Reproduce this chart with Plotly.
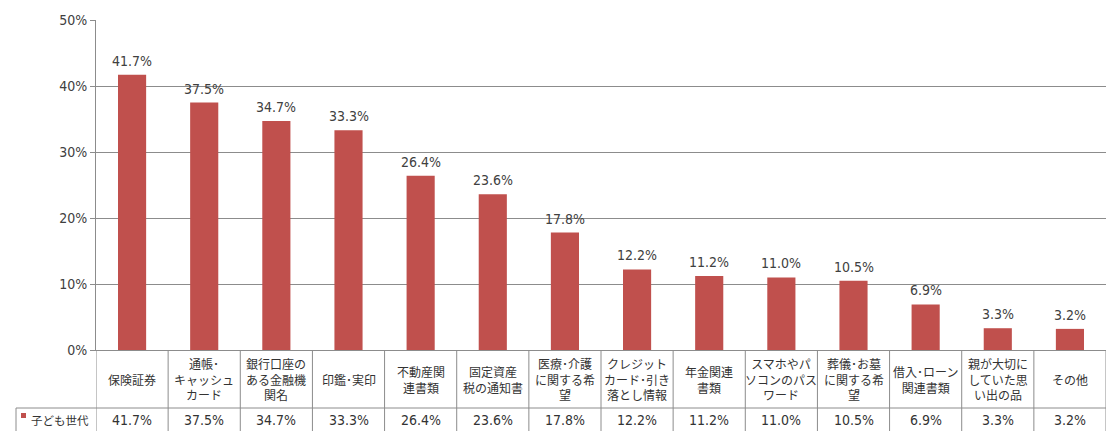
import plotly.graph_objects as go

# ---- data ----
category_lines = [
    ["保険証券"],
    ["通帳･", "キャッシュ", "カード"],
    ["銀行口座の", "ある金融機", "関名"],
    ["印鑑･実印"],
    ["不動産関", "連書類"],
    ["固定資産", "税の通知書"],
    ["医療･介護", "に関する希", "望"],
    ["クレジット", "カード･引き", "落とし情報"],
    ["年金関連", "書類"],
    ["スマホやパ", "ソコンのパス", "ワード"],
    ["葬儀･お墓", "に関する希", "望"],
    ["借入･ローン", "関連書類"],
    ["親が大切に", "していた思", "い出の品"],
    ["その他"],
]
categories = ["".join(c) for c in category_lines]
values = [41.7, 37.5, 34.7, 33.3, 26.4, 23.6, 17.8, 12.2, 11.2, 11.0, 10.5, 6.9, 3.3, 3.2]
series_name = "子ども世代"
y_ticks = [0, 10, 20, 30, 40, 50]
y_tick_labels = ["0%", "10%", "20%", "30%", "40%", "50%"]

# ---- style ----
W, H = 1110, 431
L, R, T, B = 96, 4, 20, 81
PH = H - T - B  # plot height in px
BAR = "#C0504D"
GRID = "#8C8C8C"
TXT = "#404040"
NUM_FONT = "Liberation Sans Narrow, DejaVu Sans Condensed, Roboto Condensed, Liberation Sans, sans-serif"
JP_FONT = "Noto Sans CJK JP, sans-serif"


def py(pix):
    """pixel row -> paper y"""
    return (H - B - pix) / PH


def px(pix):
    """pixel column -> paper x"""
    return (pix - L) / (W - L - R)


fig = go.Figure()
fig.add_trace(go.Bar(
    x=categories, y=values, name=series_name,
    marker=dict(color=BAR, line=dict(width=0)),
    hoverinfo="skip",
))

annotations = []
shapes = []

# value labels above bars
for c, v in zip(categories, values):
    annotations.append(dict(
        x=c, y=v, xref="x", yref="y", text=f"{v:.1f}%", showarrow=False,
        yanchor="bottom", yshift=4,
        font=dict(family=NUM_FONT, size=14, color=TXT),
    ))

# table: category row (350..408) and value row (408..431)
row1_top, row1_bot, row2_bot = 350, 408, 431
row1_mid = (row1_top + row1_bot) / 2
row2_mid = (row1_bot + row2_bot) / 2 + 0.5
for c, lines in zip(categories, category_lines):
    annotations.append(dict(
        x=c, y=py(row1_mid), xref="x", yref="paper", text="<br>".join(lines),
        showarrow=False, yanchor="middle", xanchor="center", align="center",
        font=dict(family=JP_FONT, size=12, color="#333333"),
    ))
for c, v in zip(categories, values):
    annotations.append(dict(
        x=c, y=py(row2_mid), xref="x", yref="paper", text=f"{v:.1f}%", showarrow=False,
        yanchor="middle", xanchor="center",
        font=dict(family=NUM_FONT, size=14, color="#333333"),
    ))

# legend cell
annotations.append(dict(
    x=px(29), y=py(row2_mid), xref="paper", yref="paper", text=series_name,
    showarrow=False, xanchor="left", yanchor="middle",
    font=dict(family=JP_FONT, size=11.5, color="#333333"),
))
shapes.append(dict(type="rect", xref="paper", yref="paper",
                   x0=px(21), x1=px(26), y0=py(413), y1=py(418),
                   fillcolor=BAR, line=dict(width=0)))

TABLE = "#8C8C8C"
n = len(categories)
# vertical lines between categories
for k in range(n + 1):
    shapes.append(dict(type="line", xref="x", yref="paper",
                       x0=k - 0.5, x1=k - 0.5, y0=py(row1_top), y1=py(row2_bot + 2),
                       line=dict(color=TABLE, width=1)))
# horizontal row divider
shapes.append(dict(type="line", xref="paper", yref="paper",
                   x0=px(16), x1=1, y0=py(row1_bot), y1=py(row1_bot),
                   line=dict(color=TABLE, width=1)))
# legend cell left border
shapes.append(dict(type="line", xref="paper", yref="paper",
                   x0=px(16), x1=px(16), y0=py(row1_bot), y1=py(row2_bot + 2),
                   line=dict(color=TABLE, width=1)))

fig.update_layout(
    width=W, height=H,
    margin=dict(l=L, r=R, t=T, b=B, pad=0),
    paper_bgcolor="white", plot_bgcolor="white",
    showlegend=False,
    bargap=0.61,
    annotations=annotations,
    shapes=shapes,
    xaxis=dict(showticklabels=False, ticks="", showgrid=False,
               showline=True, linecolor=GRID, linewidth=1,
               range=[-0.5, n - 0.5], fixedrange=True),
    yaxis=dict(range=[0, 50], tickvals=y_ticks, ticktext=y_tick_labels,
               showgrid=True, gridcolor=GRID, gridwidth=1,
               showline=True, linecolor=GRID, linewidth=1,
               ticks="outside", ticklen=5, tickcolor=GRID,
               zeroline=False,
               tickfont=dict(family=NUM_FONT, size=14, color=TXT),
               fixedrange=True),
)

fig.write_html("out.html", config={"displayModeBar": False},
               post_script="document.body.style.margin='0';document.body.style.overflow='hidden';")
